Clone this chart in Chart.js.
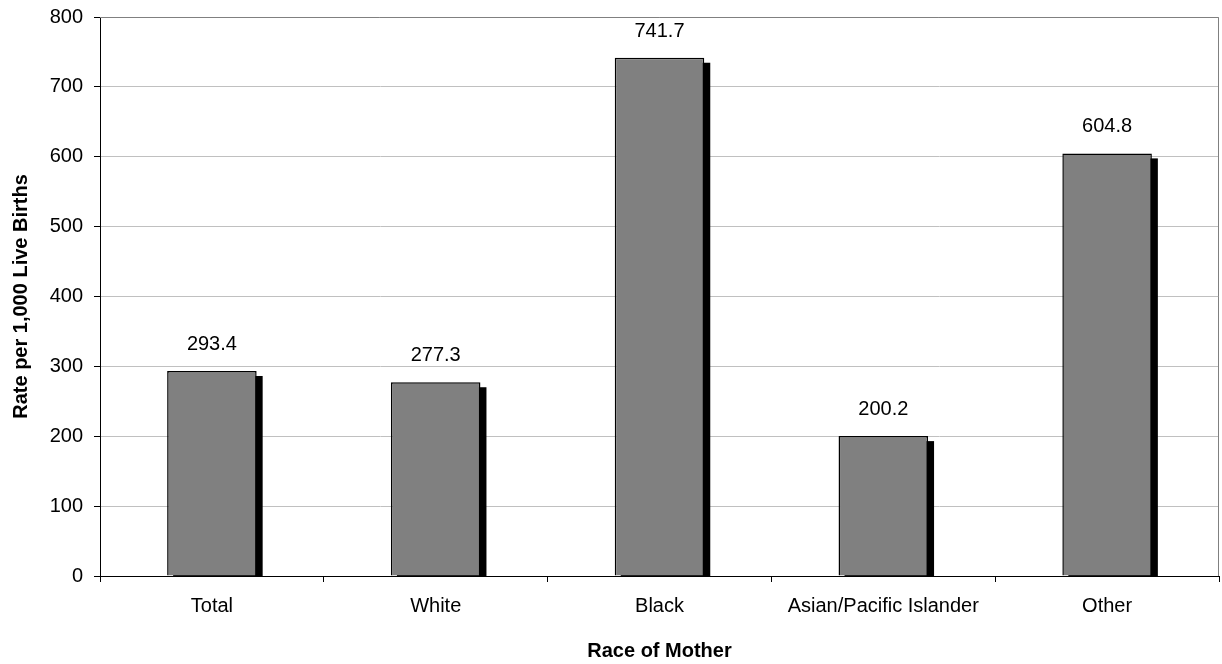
<!DOCTYPE html>
<html>
<head>
<meta charset="utf-8">
<script src="https://cdn.jsdelivr.net/npm/chart.js@4/dist/chart.umd.min.js"></script>
<style>
    html, body { margin: 0; padding: 0; background: #fff; }
    #wrap { width: 1222px; height: 664px; position: relative; }
</style>
</head>
<body>
<div id="wrap"><canvas id="rateChart"></canvas></div>
<script>
const races = ["Total", "White", "Black", "Asian/Pacific Islander", "Other"];
const rates = [293.4, 277.3, 741.7, 200.2, 604.8];
const yTicks = [0, 100, 200, 300, 400, 500, 600, 700, 800];

const fontFamily = "'Liberation Sans', Arial, sans-serif";

// black drop shadow behind the bars, taken from the bar elements
const barShadow = {
    id: "barShadow",
    beforeDatasetsDraw(chart) {
        const ctx = chart.ctx;
        const area = chart.chartArea;
        ctx.save();
        ctx.beginPath();
        ctx.rect(area.left, area.top, area.right - area.left, area.bottom - area.top);
        ctx.clip();
        ctx.fillStyle = "#000";
        chart.getDatasetMeta(0).data.forEach((bar) => {
            const p = bar.getProps(["x", "y", "width", "base"], true);
            ctx.fillRect(p.x - p.width / 2 + 6, p.y + 5, p.width, p.base - p.y);
        });
        ctx.restore();
    }
};

// value labels above bars + gray frame on top/right
const valueLabels = {
    id: "valueLabels",
    afterDraw(chart) {
        const ctx = chart.ctx;
        const area = chart.chartArea;
        ctx.save();
        ctx.strokeStyle = "#808080";
        ctx.lineWidth = 1;
        ctx.beginPath();
        ctx.moveTo(area.left, area.top + 0.5);
        ctx.lineTo(area.right - 0.5, area.top + 0.5);
        ctx.lineTo(area.right - 0.5, area.bottom);
        ctx.stroke();

        ctx.fillStyle = "#000";
        ctx.font = "20px " + fontFamily;
        ctx.textAlign = "center";
        ctx.textBaseline = "alphabetic";
        const meta = chart.getDatasetMeta(0);
        meta.data.forEach((bar, i) => {
            ctx.fillText(rates[i].toFixed(1), bar.x, bar.y - 21);
        });
        ctx.restore();
    }
};

const canvas = document.getElementById("rateChart");
const chart = new Chart(canvas, {
    type: "bar",
    data: {
        labels: races,
        datasets: [
            {
                data: rates,
                backgroundColor: "#808080",
                borderColor: "#000",
                borderWidth: 1.5,
                borderSkipped: "bottom",
                barPercentage: 0.4,
                categoryPercentage: 1.0
            }
        ]
    },
    options: {
        responsive: true,
        maintainAspectRatio: false,
        animation: false,
        devicePixelRatio: 1,
        layout: { padding: { top: 17, right: 3, left: 0, bottom: 0 } },
        plugins: {
            legend: { display: false },
            tooltip: { enabled: false }
        },
        scales: {
            x: {
                grid: {
                    display: true,
                    drawOnChartArea: false,
                    offset: true,
                    tickLength: 6,
                    tickColor: "#000"
                },
                border: { color: "#000", width: 1 },
                ticks: {
                    color: "#000",
                    font: { family: fontFamily, size: 20 },
                    padding: 12,
                    maxRotation: 0
                },
                title: {
                    display: true,
                    text: "Race of Mother",
                    color: "#000",
                    font: { family: fontFamily, size: 20, weight: "bold" },
                    padding: { top: 0, bottom: 1 }
                },
                afterFit(scale) {
                    scale.height = 88;
                    scale.paddingLeft = 0;
                    scale.paddingRight = 0;
                }
            },
            y: {
                min: 0,
                max: 800,
                afterBuildTicks(scale) {
                    scale.ticks = yTicks.map(v => ({ value: v }));
                },
                grid: {
                    color: "#c0c0c0",
                    tickLength: 6,
                    tickColor: "#000"
                },
                border: { color: "#000", width: 1 },
                ticks: {
                    color: "#000",
                    font: { family: fontFamily, size: 20 },
                    padding: 11
                },
                title: {
                    display: true,
                    text: "Rate per 1,000 Live Births",
                    color: "#000",
                    font: { family: fontFamily, size: 20, weight: "bold" },
                    padding: { top: 9, bottom: 0 }
                },
                afterFit(scale) {
                    scale.width = 100;
                    scale.paddingTop = 0;
                    scale.paddingBottom = 0;
                }
            }
        }
    },
    plugins: [barShadow, valueLabels]
});
</script>
</body>
</html>
